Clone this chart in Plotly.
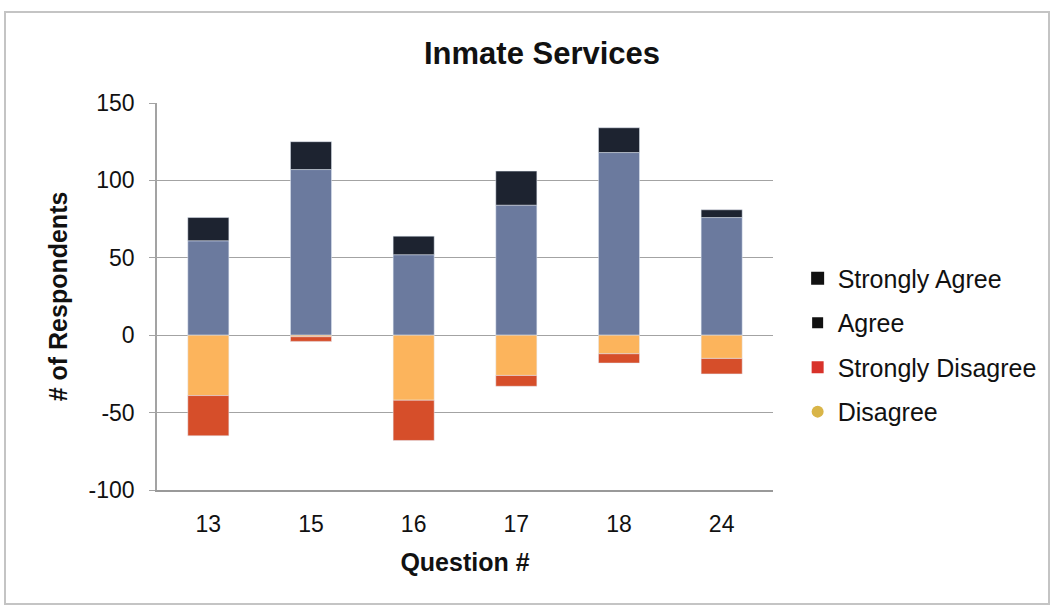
import plotly.graph_objects as go

# Survey responses per question (negative side plotted below zero)
questions = ["13", "15", "16", "17", "18", "24"]
agree = [61, 107, 52, 84, 118, 76]
strongly_agree = [15, 18, 12, 22, 16, 5]
disagree = [39, 1, 42, 26, 12, 15]
strongly_disagree = [26, 3, 26, 7, 6, 10]

y_tick_values = [-100, -50, 0, 50, 100, 150]
y_tick_labels = ["-100", "-50", "0", "50", "100", "150"]

FONT = "Liberation Sans, Arial, sans-serif"
GRID = "#a3a3a3"

fig = go.Figure()

# Positive stack: Agree then Strongly Agree; negative stack: Disagree then Strongly Disagree
fig.add_bar(x=questions, y=agree, marker_color="#6b7a9e", showlegend=False, name="Agree")
fig.add_bar(x=questions, y=strongly_agree, marker_color="#1d2330", showlegend=False, name="Strongly Agree")
fig.add_bar(x=questions, y=[-v for v in disagree], marker_color="#fcb45c", showlegend=False, name="Disagree")
fig.add_bar(x=questions, y=[-v for v in strongly_disagree], marker_color="#d64e2a", showlegend=False,
            name="Strongly Disagree")

# Legend entries with their own swatches
legend_items = [
    ("Strongly Agree", "square", "#111111", 13),
    ("Agree", "square", "#111111", 11),
    ("Strongly Disagree", "square", "#d8322a", 12),
    ("Disagree", "circle", "#d9b548", 12),
]
for i, (label, sym, col, size) in enumerate(legend_items):
    fig.add_scatter(x=[None], y=[None], mode="markers", name=label, legendgroup=f"g{i}",
                    marker=dict(symbol=sym, color=col, size=size))

fig.update_layout(
    width=1060, height=607,
    margin=dict(l=157, r=287, t=103, b=117),
    paper_bgcolor="white", plot_bgcolor="white",
    barmode="relative", bargap=0.6,
    font=dict(family=FONT, size=23, color="#111111"),
    title=dict(text="<b>Inmate Services</b>", x=542 / 1060, xref="container", xanchor="center",
               y=1 - 53 / 607, yref="container", yanchor="middle",
               font=dict(family=FONT, size=31, color="#111111")),
    legend=dict(x=1.04, xanchor="left", y=0.375, yanchor="middle", traceorder="grouped",
                tracegroupgap=9, font=dict(family=FONT, size=25, color="#111111"),
                itemwidth=30, bgcolor="rgba(0,0,0,0)"),
    xaxis=dict(showgrid=False, showline=True, linecolor="#999999", linewidth=1.5, ticks="",
               ticklabelstandoff=13, tickfont=dict(size=23),
               title=dict(text="<b>Question #</b>", standoff=17, font=dict(size=25))),
    yaxis=dict(range=[-100, 150], tickvals=y_tick_values, ticktext=y_tick_labels,
               showgrid=True, gridcolor=GRID, gridwidth=1.3,
               zeroline=True, zerolinecolor=GRID, zerolinewidth=1.3,
               showline=True, linecolor=GRID, linewidth=1.5, ticks="outside", ticklen=6,
               tickcolor=GRID, ticklabelstandoff=10, tickfont=dict(size=23),
               title=dict(text="<b># of Respondents</b>", standoff=14, font=dict(size=25))),
    shapes=[dict(type="rect", xref="paper", yref="paper",
                 x0=(5 - 157) / 616, x1=(1049 - 157) / 616,
                 y0=(490 - 604) / 387, y1=(490 - 12) / 387,
                 line=dict(color="#c4c4c4", width=2), layer="below")],
)

fig.write_html("out.html")
